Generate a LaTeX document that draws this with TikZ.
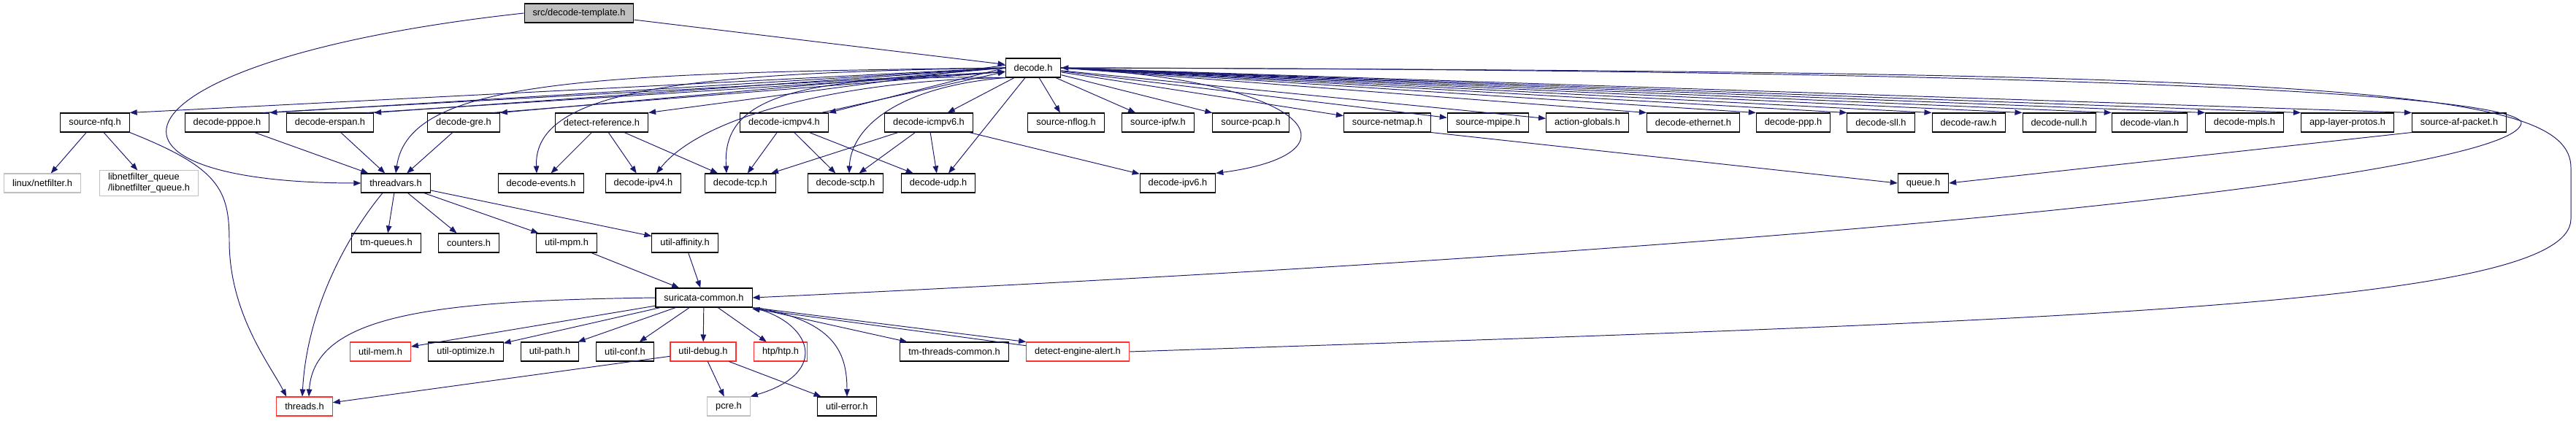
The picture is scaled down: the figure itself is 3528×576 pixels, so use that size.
\documentclass[tikz,border=0pt]{standalone}
\usepackage{fontspec}
\setmainfont{Liberation Sans}
\usetikzlibrary{arrows.meta}
\definecolor{edgeblue}{HTML}{191970}
\definecolor{sysgray}{HTML}{BFBFBF}
\definecolor{badred}{HTML}{FF3030}
\begin{document}
\begin{tikzpicture}[x=0.02cm, y=-0.02cm,
  hdr/.style={draw, fill=white, line width=0.6pt, inner xsep=0.23cm, inner ysep=0pt, minimum height=0.52cm, font=\fontsize{7.3}{8.6}\selectfont},
  syshdr/.style={hdr, draw=sysgray},
  badhdr/.style={hdr, draw=badred},
  inc/.style={-{Triangle[length=0.2cm, width=0.15cm]}, color=edgeblue, line width=0.55pt}]
\useasboundingbox (0,0) rectangle (3528,576);

% row 0 and 1
\node[hdr, fill=sysgray] (tmpl) at (793,18) {src/decode-template.h};
\node[hdr] (decode) at (1415,93) {decode.h};

% row 2
\node[hdr] (nfq) at (130,168) {source-nfq.h};
\node[hdr] (pppoe) at (311,168) {decode-pppoe.h};
\node[hdr] (erspan) at (452,168) {decode-erspan.h};
\node[hdr] (gre) at (635,168) {decode-gre.h};
\node[hdr] (detref) at (824,168) {detect-reference.h};
\node[hdr] (icmpv4) at (1074,168) {decode-icmpv4.h};
\node[hdr] (icmpv6) at (1272,168) {decode-icmpv6.h};
\node[hdr] (nflog) at (1460,168) {source-nflog.h};
\node[hdr] (ipfw) at (1586,168) {source-ipfw.h};
\node[hdr] (pcap) at (1713,168) {source-pcap.h};
\node[hdr] (netmap) at (1900,168) {source-netmap.h};
\node[hdr] (mpipe) at (2038,168) {source-mpipe.h};
\node[hdr] (actglob) at (2174,168) {action-globals.h};
\node[hdr] (eth) at (2319,168) {decode-ethernet.h};
\node[hdr] (ppp) at (2456,168) {decode-ppp.h};
\node[hdr] (sll) at (2576,168) {decode-sll.h};
\node[hdr] (raw) at (2696,168) {decode-raw.h};
\node[hdr] (null) at (2820,168) {decode-null.h};
\node[hdr] (vlan) at (2944,168) {decode-vlan.h};
\node[hdr] (mpls) at (3074,168) {decode-mpls.h};
\node[hdr] (applayer) at (3215,168) {app-layer-protos.h};
\node[hdr] (afpacket) at (3368,168) {source-af-packet.h};

% row 3
\node[syshdr] (netfilter) at (58,251) {linux/netfilter.h};
\node[syshdr, align=left, inner ysep=2pt] (nfqueue) at (204,251) {libnetfilter\_queue\\/libnetfilter\_queue.h};
\node[hdr] (tv) at (542,251) {threadvars.h};
\node[hdr] (events) at (741,251) {decode-events.h};
\node[hdr] (ipv4) at (881,251) {decode-ipv4.h};
\node[hdr] (tcp) at (1014,251) {decode-tcp.h};
\node[hdr] (sctp) at (1158,251) {decode-sctp.h};
\node[hdr] (udp) at (1285,251) {decode-udp.h};
\node[hdr] (ipv6) at (1613,251) {decode-ipv6.h};
\node[hdr] (queue) at (2634,251) {queue.h};

% row 4 and 5
\node[hdr] (tmqueues) at (529,333) {tm-queues.h};
\node[hdr] (counters) at (642,333) {counters.h};
\node[hdr] (mpm) at (776,333) {util-mpm.h};
\node[hdr] (affinity) at (938,333) {util-affinity.h};
\node[hdr] (common) at (964,408) {suricata-common.h};

% row 6 and 7
\node[badhdr] (mem) at (521,482) {util-mem.h};
\node[hdr] (optimize) at (638,482) {util-optimize.h};
\node[hdr] (utilpath) at (753,482) {util-path.h};
\node[hdr] (conf) at (856,482) {util-conf.h};
\node[badhdr] (debug) at (963,482) {util-debug.h};
\node[badhdr] (htp) at (1069,482) {htp/htp.h};
\node[hdr] (tmthreads) at (1307,482) {tm-threads-common.h};
\node[badhdr] (alert) at (1476,482) {detect-engine-alert.h};
\node[badhdr] (threads) at (417,557) {threads.h};
\node[syshdr] (pcre) at (998,557) {pcre.h};
\node[hdr] (error) at (1160,557) {util-error.h};

% template
\draw[inc] (tmpl) -- (decode);
\draw[inc] (tmpl.west) .. controls (150,80) and (80,250) .. (tv.west);

% decode.h, left side
\draw[inc] (decode.west) -- (nfq.north east);
\foreach \n in {pppoe,erspan,gre,icmpv4} {
  \draw[inc] (decode.west) -- (\n.north east);
  \draw[inc] ([xshift=-0.2cm]\n.north east) -- ([yshift=-3pt]decode.west);
}
\draw[inc] ([yshift=2pt]decode.west) -- (detref.north east);
\draw[inc] (decode) -- (icmpv6);
\draw[inc] (decode.west) .. controls (800,100) and (560,110) .. (tv.north);
\draw[inc] (decode.west) .. controls (950,100) and (730,120) .. ([xshift=-0.12cm]events.north);
\draw[inc] (decode.south west) .. controls (1150,110) and (960,160) .. ([xshift=0.36cm]ipv4.north);
\draw[inc] (decode.south west) .. controls (1050,100) and (990,150) .. ([xshift=-0.38cm]tcp.north);
\draw[inc] (decode.south west) .. controls (1220,120) and (1165,180) .. ([xshift=0.1cm]sctp.north);
\draw[inc] ([xshift=-0.22cm]decode.south) -- ([xshift=0.28cm]udp.north);
\draw[inc] (decode.east) .. controls (1800,110) and (1870,210) .. (ipv6.north east);

% decode.h, right side
\foreach \n in {nflog,ipfw,pcap,netmap,mpipe,actglob} {
  \draw[inc] (decode) -- (\n);
}
\foreach \n in {eth,ppp,sll,raw,null,vlan,mpls,applayer,afpacket} {
  \draw[inc] (decode.east) -- (\n.north west);
}
\draw[inc] (decode.east) .. controls (2600,95) and (3420,120) .. (3453,167)
  .. controls (3460,230) and (2700,330) .. (common.east);
\draw[inc] (alert.east) .. controls (2800,440) and (3521,420) .. (3521,300)
  -- (3521,230) .. controls (3521,120) and (3200,98) .. (decode.east);

% row 2 to row 3
\draw[inc] (nfq) -- (netfilter);
\draw[inc] (nfq) -- (nfqueue);
\draw[inc] (nfq.south east) .. controls (300,230) and (314,260) .. (314,330)
  .. controls (314,430) and (370,500) .. ([xshift=0.28cm]threads.north west);
\foreach \n in {pppoe,erspan,gre} {
  \draw[inc] (\n) -- (tv);
}
\foreach \n in {events,ipv4,tcp} {
  \draw[inc] (detref) -- (\n);
}
\foreach \n in {tcp,sctp,udp} {
  \draw[inc] (icmpv4) -- (\n);
}
\foreach \n in {tcp,sctp,udp,ipv6} {
  \draw[inc] (icmpv6) -- (\n);
}
\draw[inc] (netmap.south east) -- (queue.west);
\draw[inc] (afpacket.south west) -- (queue.east);

% threadvars.h
\foreach \n in {tmqueues,counters,mpm,affinity} {
  \draw[inc] (tv) -- (\n);
}
\draw[inc] ([xshift=-0.36cm]tv.south) .. controls (470,330) and (420,430) .. ([xshift=-0.06cm]threads.north);
\draw[inc] (mpm) -- (common);
\draw[inc] (affinity) -- (common);

% suricata-common.h
\draw[inc] (common.west) .. controls (600,412) and (430,430) .. ([xshift=0.12cm]threads.north);
\foreach \n in {mem,optimize,utilpath,conf,debug,htp} {
  \draw[inc] (common) -- (\n);
}
\draw[inc] (common.south east) -- ([xshift=0.2cm]tmthreads.north west);
\draw[inc] (common.south east) -- (alert.north west);
\draw[inc] ([yshift=-3pt]alert.north west) -- ([yshift=-1pt]common.south east);
\draw[inc] (common.south east) .. controls (1110,440) and (1140,510) .. (pcre.north east);
\draw[inc] ([xshift=0.1cm]common.south east) .. controls (1140,440) and (1160,480) .. (error.north);

% util-debug.h
\draw[inc] (debug) -- (threads);
\draw[inc] (debug) -- (pcre);
\draw[inc] (debug) -- (error);
\end{tikzpicture}
\end{document}
